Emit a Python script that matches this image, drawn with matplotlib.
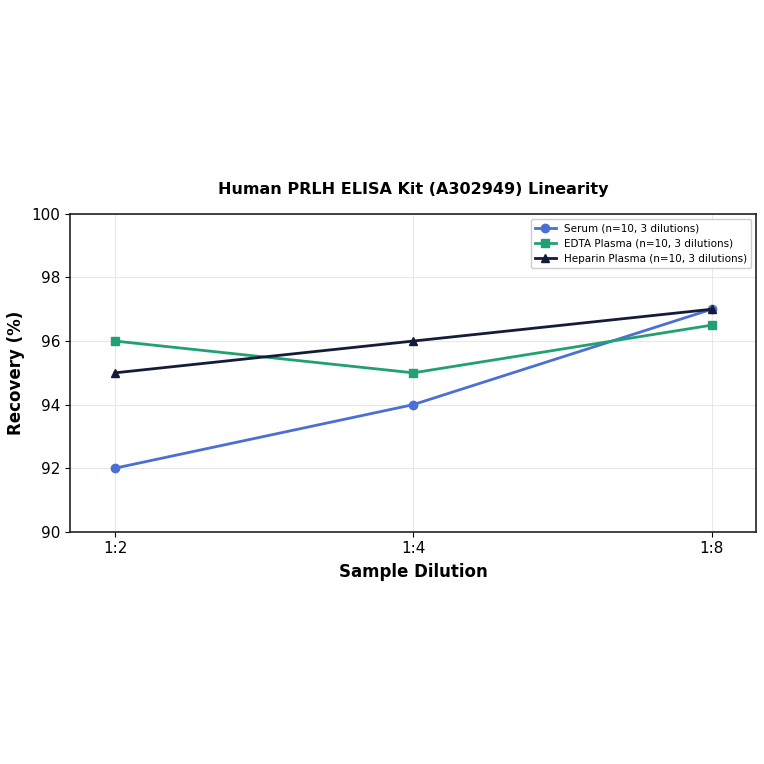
import matplotlib
matplotlib.use("Agg")
import matplotlib.pyplot as plt

# Linearity data
dilutions = ["1:2", "1:4", "1:8"]
serum = [92, 94, 97]
edta_plasma = [96, 95, 96.5]
heparin_plasma = [95, 96, 97]

series_labels = [
    "Serum (n=10, 3 dilutions)",
    "EDTA Plasma (n=10, 3 dilutions)",
    "Heparin Plasma (n=10, 3 dilutions)",
]
series_colors = ["#4b6fd4", "#21a072", "#141c3a"]
series_markers = ["o", "s", "^"]

fig = plt.figure(figsize=(7.64, 7.64), dpi=100)
ax = fig.add_axes([0.092, 0.304, 0.898, 0.416])

x = list(range(len(dilutions)))
for values, label, color, marker in zip(
    [serum, edta_plasma, heparin_plasma], series_labels, series_colors, series_markers
):
    ax.plot(x, values, color=color, marker=marker, markersize=6, linewidth=2, label=label)

ax.set_xticks(x)
ax.set_xticklabels(dilutions)
ax.set_xlim(-0.15, 2.15)
ax.set_ylim(90, 100)
ax.set_yticks([90, 92, 94, 96, 98, 100])
ax.tick_params(labelsize=11)
ax.grid(True, color="#e8e8e8", linewidth=0.8)
ax.set_axisbelow(True)
for spine in ax.spines.values():
    spine.set_color("#222222")
    spine.set_linewidth(1.2)

ax.set_xlabel("Sample Dilution", fontsize=12, fontweight="bold", labelpad=5)
ax.set_ylabel("Recovery (%)", fontsize=12, fontweight="bold", labelpad=5)
ax.set_title("Human PRLH ELISA Kit (A302949) Linearity", fontsize=11.5, fontweight="bold", pad=14)
ax.legend(loc="upper right", fontsize=7.5, framealpha=1)

fig.savefig("out.png", dpi=100)
